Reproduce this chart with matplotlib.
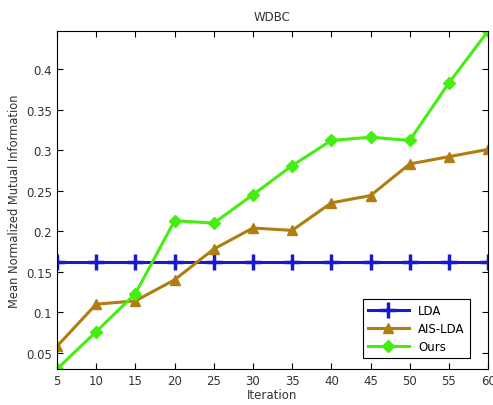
import numpy as np
import matplotlib.pyplot as plt

iterations = [5, 10, 15, 20, 25, 30, 35, 40, 45, 50, 55, 60]
lda = [0.162] * 12
ais_lda = [0.058, 0.110, 0.114, 0.140, 0.178, 0.204, 0.201, 0.235, 0.244, 0.283, 0.292, 0.301]
ours = [0.030, 0.076, 0.123, 0.213, 0.210, 0.245, 0.281, 0.312, 0.316, 0.312, 0.383, 0.447]
yticks = [0.05, 0.1, 0.15, 0.2, 0.25, 0.3, 0.35, 0.4]


def main():
    fig = plt.figure(figsize=(4.93, 4.06), dpi=100)
    ax = fig.add_axes([0.1156, 0.0887, 0.8744, 0.8323])

    ax.plot(iterations, lda, '-+', color='#1a1acc', lw=2.2, ms=11, mew=2.5, label='LDA')
    ax.plot(iterations, ais_lda, '-^', color='#b07d10', lw=2.2, ms=7, label='AIS-LDA')
    ax.plot(iterations, ours, '-D', color='#44ee11', lw=2.2, ms=6, label='Ours')

    ax.set_xlim(5, 60)
    ax.set_ylim(min(ours), max(ours))
    ax.set_xticks(iterations)
    ax.set_yticks(yticks)
    ax.set_yticklabels(['0.05', '0.1', '0.15', '0.2', '0.25', '0.3', '0.35', '0.4'])
    ax.tick_params(direction='in', top=True, right=True, labelsize=8.5,
                   labelcolor='#333333', length=4)
    ax.set_title('WDBC', fontsize=8.5, color='#333333', pad=8)
    ax.set_xlabel('Iteration', fontsize=8.5, color='#333333', labelpad=1)
    ax.set_ylabel('Mean Normalized Mutual Information', fontsize=8.3, color='#333333')

    leg = ax.legend(loc='lower right', fontsize=8.5, fancybox=False, framealpha=1,
                    edgecolor='black', borderaxespad=0, handlelength=3.5,
                    labelspacing=0.45, bbox_to_anchor=(0.957, 0.032))
    leg.get_frame().set_linewidth(0.8)

    fig.savefig('out.png', dpi=100)


if __name__ == "__main__":
    main()
